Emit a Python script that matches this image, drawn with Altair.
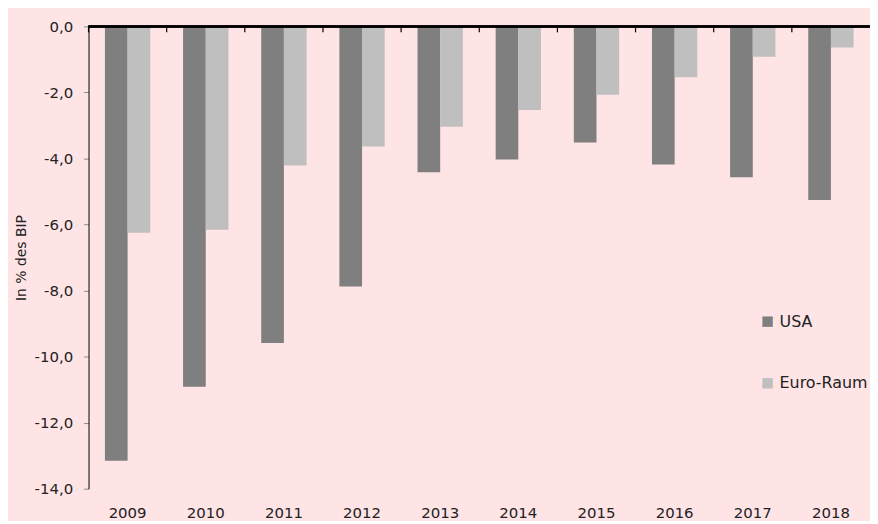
import altair as alt
import pandas as pd

years = ["2009", "2010", "2011", "2012", "2013", "2014", "2015", "2016", "2017", "2018"]
usa = [-13.15, -10.91, -9.59, -7.88, -4.42, -4.03, -3.52, -4.18, -4.57, -5.26]
euro = [-6.25, -6.16, -4.21, -3.64, -3.04, -2.53, -2.07, -1.54, -0.92, -0.64]
series = ["USA", "Euro-Raum"]
colors = ["#7f7f7f", "#bfbfbf"]

rows = []
for i, y in enumerate(years):
    rows.append({"year": y, "series": series[0], "value": usa[i]})
    rows.append({"year": y, "series": series[1], "value": euro[i]})
df = pd.DataFrame(rows)
ydf = pd.DataFrame({"year": years})

FONT = "DejaVu Sans"
BG = "#FFE4E6"

xscale = alt.Scale(paddingInner=0, paddingOuter=0)

bars = alt.Chart(df).mark_bar().encode(
    x=alt.X("year:N", sort=years, scale=xscale, title=None,
            axis=alt.Axis(orient="bottom", domain=False, ticks=False, labelAngle=0,
                          labelPadding=17, labelFontSize=15, labelColor="#222",
                          labelFont=FONT)),
    xOffset=alt.XOffset("series:N", sort=series,
                        scale=alt.Scale(domain=series, paddingInner=0, paddingOuter=0.7235)),
    y=alt.Y("value:Q", scale=alt.Scale(domain=[-14, 0], nice=False),
            title="In % des BIP",
            axis=alt.Axis(values=[0, -2, -4, -6, -8, -10, -12, -14],
                          labelExpr="(datum.value < 0 ? '-' : '') + replace(format(abs(datum.value), '.1f'), '.', ',')",
                          domainColor="black", domainWidth=1, tickColor="#888",
                          tickSize=5, labelPadding=11, labelFontSize=15,
                          labelColor="#222", labelFont=FONT, grid=False,
                          titleFont=FONT, titleFontSize=14, titleFontWeight="normal",
                          titleColor="#222", titlePadding=6)),
    color=alt.Color("series:N", sort=series,
                    scale=alt.Scale(domain=series, range=colors),
                    legend=alt.Legend(title=None, orient="none", legendX=675, legendY=289,
                                      symbolType="square", symbolSize=110,
                                      symbolStrokeWidth=0, rowPadding=46,
                                      labelOffset=4, labelFontSize=16,
                                      labelFont=FONT, labelColor="#222")),
)

ticks = alt.Chart(ydf).mark_rule(color="black", strokeWidth=1.2).encode(
    x=alt.X("year:N", sort=years, bandPosition=0),
    y=alt.value(0),
    y2=alt.value(6),
)

zero = alt.Chart(ydf).mark_rule(color="black", strokeWidth=1.5).encode(
    y=alt.datum(0),
)

chart = alt.layer(bars, zero, ticks).properties(
    width=786, height=465,
    background=BG,
    padding={"left": 81, "top": 17, "right": 0, "bottom": 31},
    autosize=alt.AutoSizeParams(type="none"),
).configure_view(stroke=None)

chart.save("out.html", embed_options={"renderer": "svg", "actions": False})
